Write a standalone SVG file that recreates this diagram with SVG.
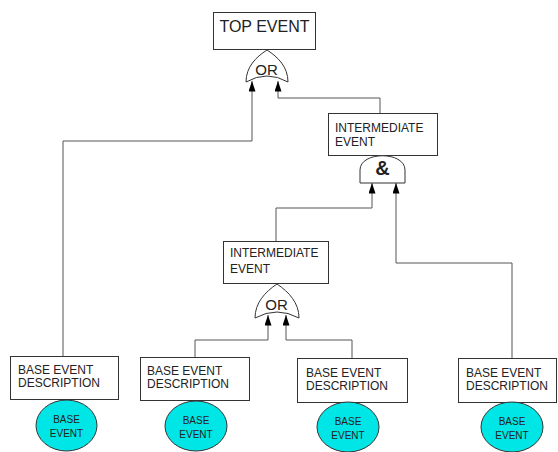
<svg xmlns="http://www.w3.org/2000/svg" width="558" height="452" viewBox="0 0 558 452">
  <style>
    .box { fill: #ffffff; stroke: #333333; stroke-width: 1; }
    .gate { fill: #ffffff; stroke: #333333; stroke-width: 1; }
    .base { fill: #00e5e5; stroke: #333333; stroke-width: 1; }
    .lbl { font-family: "Liberation Sans", Arial, sans-serif; fill: #222222; }
    .t12 { font-size: 12px; }
    .t10 { font-size: 10px; text-anchor: middle; }
    .gt { font-size: 15px; text-anchor: middle; }
    .wire { fill: none; stroke: #555555; stroke-width: 1; marker-end: url(#arr); }
  </style>
  <defs>
    <marker id="arr" viewBox="0 0 12 8" refX="12" refY="4" markerWidth="12" markerHeight="7" orient="auto" markerUnits="userSpaceOnUse">
      <path d="M0,0 L12,4 L0,8 Z" fill="#000000"/>
    </marker>
  </defs>

  <!-- connectors: child output up into parent gate inputs -->
  <g id="connectors">
    <path class="wire" d="M63,356 V141 H252 V81"/>
    <path class="wire" d="M380,113 V98 H278 V81"/>
    <path class="wire" d="M276,241 V208 H372 V183"/>
    <path class="wire" d="M512,358 V263 H396 V183"/>
    <path class="wire" d="M195,357 V340 H268 V315"/>
    <path class="wire" d="M352,358 V340 H286 V315"/>
  </g>

  <g id="top-event">
    <rect class="box" x="213.5" y="12.5" width="102" height="37"/>
    <text class="lbl" x="264.5" y="32" font-size="16" text-anchor="middle">TOP EVENT</text>
  </g>

  <g id="gate-or-top">
    <path class="gate" d="M246,82 C246,67 256,57 267,50 C278,57 288,67 288,82 Q267,70 246,82 Z"/>
    <text class="lbl gt" x="266.5" y="75">OR</text>
  </g>

  <g id="intermediate-1">
    <rect class="box" x="328.5" y="113.5" width="109" height="42"/>
    <text class="lbl t12" x="335" y="132">INTERMEDIATE</text>
    <text class="lbl t12" x="335" y="146">EVENT</text>
  </g>

  <g id="gate-and">
    <path class="gate" d="M360,183 V170 C360,151 405,151 405,170 V183 Z"/>
    <text class="lbl" x="382.5" y="175" font-size="20" font-weight="bold" text-anchor="middle">&amp;</text>
  </g>

  <g id="intermediate-2">
    <rect class="box" x="223.5" y="241.5" width="105" height="42"/>
    <text class="lbl t12" x="230" y="257">INTERMEDIATE</text>
    <text class="lbl t12" x="230" y="273">EVENT</text>
  </g>

  <g id="gate-or-mid">
    <path class="gate" d="M255,318 C255,303 265,292 277,284 C289,292 299,303 299,318 Q277,306 255,318 Z"/>
    <text class="lbl gt" x="276.5" y="310">OR</text>
  </g>

  <g id="base-1">
    <rect class="box" x="10.5" y="356.5" width="108" height="43"/>
    <text class="lbl t12" x="18" y="374">BASE EVENT</text>
    <text class="lbl t12" x="18" y="387">DESCRIPTION</text>
    <ellipse class="base" cx="66.5" cy="425.5" rx="30.5" ry="25.5"/>
    <text class="lbl t10" x="66.5" y="423">BASE</text>
    <text class="lbl t10" x="66.5" y="437">EVENT</text>
  </g>

  <g id="base-2">
    <rect class="box" x="140.5" y="357.5" width="109" height="43"/>
    <text class="lbl t12" x="147" y="375">BASE EVENT</text>
    <text class="lbl t12" x="147" y="388">DESCRIPTION</text>
    <ellipse class="base" cx="196" cy="426" rx="31" ry="25"/>
    <text class="lbl t10" x="196" y="424">BASE</text>
    <text class="lbl t10" x="196" y="438">EVENT</text>
  </g>

  <g id="base-3">
    <rect class="box" x="297.5" y="358.5" width="110" height="44"/>
    <text class="lbl t12" x="306" y="377">BASE EVENT</text>
    <text class="lbl t12" x="306" y="390">DESCRIPTION</text>
    <ellipse class="base" cx="348" cy="427" rx="31" ry="25"/>
    <text class="lbl t10" x="348" y="425">BASE</text>
    <text class="lbl t10" x="348" y="439">EVENT</text>
  </g>

  <g id="base-4">
    <rect class="box" x="458.5" y="358.5" width="98" height="44"/>
    <text class="lbl t12" x="466" y="377">BASE EVENT</text>
    <text class="lbl t12" x="466" y="390">DESCRIPTION</text>
    <ellipse class="base" cx="512" cy="427" rx="31" ry="25"/>
    <text class="lbl t10" x="512" y="425">BASE</text>
    <text class="lbl t10" x="512" y="439">EVENT</text>
  </g>
</svg>
